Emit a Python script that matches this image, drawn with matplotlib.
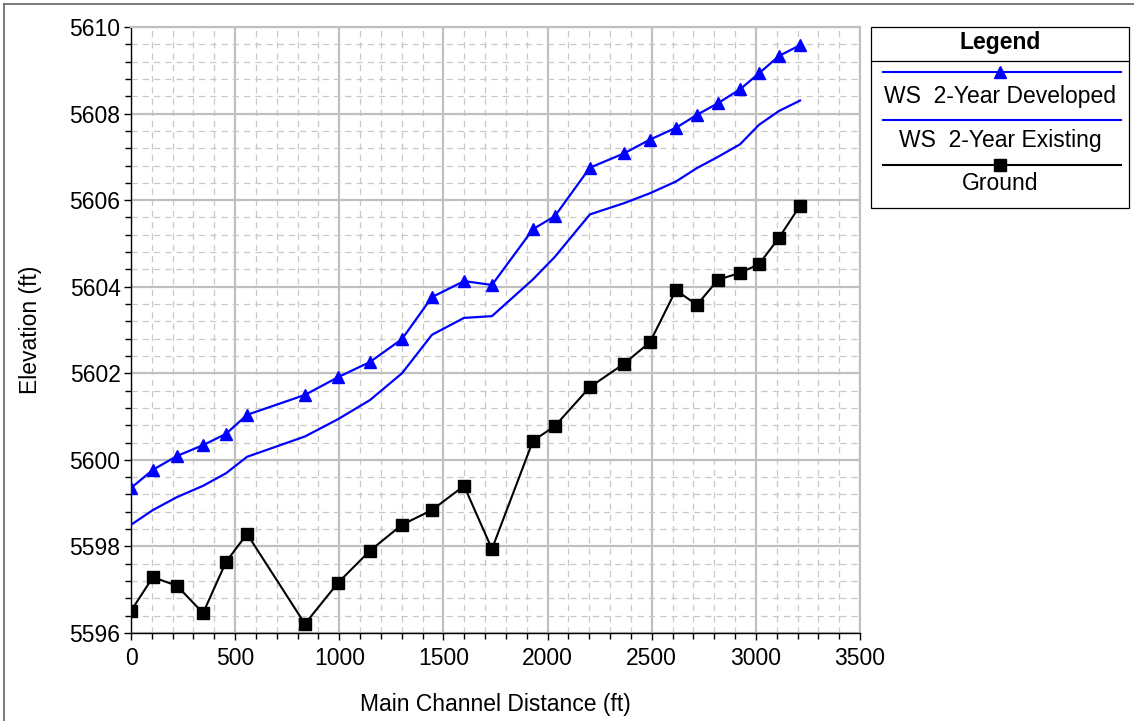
import matplotlib
matplotlib.use("Agg")
import matplotlib.pyplot as plt
from matplotlib.ticker import MultipleLocator
from matplotlib.lines import Line2D
from matplotlib.patches import Rectangle

plt.rcParams['font.family'] = ['Liberation Sans', 'DejaVu Sans']

# Data
station = [0, 105, 221, 346, 456, 557, 835, 994, 1147, 1301, 1445, 1599, 1733,
           1930, 2035, 2203, 2367, 2492, 2616, 2717, 2818, 2924, 3015, 3111, 3212]
ws_developed = [5599.35, 5599.77, 5600.09, 5600.34, 5600.60, 5601.04, 5601.50, 5601.91,
                5602.26, 5602.79, 5603.76, 5604.13, 5604.04, 5605.33, 5605.63, 5606.75,
                5607.08, 5607.40, 5607.67, 5607.97, 5608.24, 5608.56, 5608.93, 5609.33, 5609.58]
ws_existing = [5598.50, 5598.84, 5599.14, 5599.40, 5599.69, 5600.07, 5600.54, 5600.94,
               5601.38, 5602.00, 5602.89, 5603.28, 5603.32, 5604.17, 5604.69, 5605.67,
               5605.93, 5606.16, 5606.43, 5606.74, 5607.00, 5607.29, 5607.74, 5608.06, 5608.30]
ground = [5596.51, 5597.29, 5597.09, 5596.46, 5597.64, 5598.29, 5596.21, 5597.16,
          5597.90, 5598.50, 5598.84, 5599.40, 5597.94, 5600.44, 5600.78, 5601.68,
          5602.22, 5602.72, 5603.92, 5603.58, 5604.16, 5604.32, 5604.52, 5605.13, 5605.87]

series_names = ["WS  2-Year Developed", "WS  2-Year Existing", "Ground"]
legend_title = "Legend"
x_label = "Main Channel Distance (ft)"
y_label = "Elevation (ft)"

FS = 16.5
W, H = 1134, 721
fig = plt.figure(figsize=(W / 100, H / 100), dpi=100)
fig.patch.set_facecolor('white')

# axes placement in pixels
L, R, T, B = 131, 860, 27, 633
ax = fig.add_axes([L / W, 1 - B / H, (R - L) / W, (B - T) / H])

ax.set_xlim(0, 3500)
ax.set_ylim(5596, 5610)
ax.xaxis.set_major_locator(MultipleLocator(500))
ax.xaxis.set_minor_locator(MultipleLocator(100))
ax.yaxis.set_major_locator(MultipleLocator(2))
ax.yaxis.set_minor_locator(MultipleLocator(0.4))

ax.grid(which='minor', color='#c8c8c8', linestyle=(0, (5, 4)), linewidth=0.9)
ax.grid(which='major', color='#c0c0c0', linestyle='-', linewidth=1.6)
ax.set_axisbelow(True)

ax.plot(station, ws_developed, color='#0000ff', lw=1.6, marker='^', ms=8.5,
        markeredgecolor='#0000ff', markerfacecolor='#0000ff', zorder=3)
ax.plot(station, ws_existing, color='#0000ff', lw=1.6, zorder=3)
ax.plot(station, ground, color='black', lw=1.5, marker='s', ms=8, zorder=3)

for s in ['top', 'right']:
    ax.spines[s].set_color('#c0c0c0')
    ax.spines[s].set_linewidth(1.6)
for s in ['left', 'bottom']:
    ax.spines[s].set_color('black')
    ax.spines[s].set_linewidth(1.0)

ax.tick_params(which='major', direction='out', length=5, width=1, labelsize=FS)
ax.tick_params(axis='x', which='major', pad=5)
ax.tick_params(axis='y', which='major', pad=2.5)
ax.tick_params(which='minor', direction='out', length=4.5, width=1)
ax.tick_params(axis='x', which='both', top=False)
ax.tick_params(axis='y', which='both', right=False)
ax.set_xlabel(x_label, fontsize=FS)
ax.set_ylabel(y_label, fontsize=FS)
ax.xaxis.set_label_coords(0.5, (B - 693) / (B - T))
ax.yaxis.set_label_coords((42 - L) / (R - L), 0.5)

# overlay axes in pixel coordinates for legend box and page border
ov = fig.add_axes([0, 0, 1, 1])
ov.set_xlim(0, W)
ov.set_ylim(H, 0)
ov.axis('off')
ov.patch.set_alpha(0)

# page border (top and left)
ov.add_line(Line2D([4, W], [4, 4], color='#6e6e6e', lw=1.3))
ov.add_line(Line2D([4, 4], [4, H], color='#6e6e6e', lw=1.3))

# legend box
lx0, lx1, ly0, ly1 = 871, 1129, 27, 208
ov.add_patch(Rectangle((lx0, ly0), lx1 - lx0, ly1 - ly0, fill=False, ec='black', lw=0.9))
ov.add_line(Line2D([lx0, lx1], [61, 61], color='black', lw=0.9))
cx = (lx0 + lx1) / 2
ov.text(cx, 43, legend_title, ha='center', va='center', fontsize=FS, fontweight='bold')
styles = [dict(color='#0000ff', marker='^', ms=8.5),
          dict(color='#0000ff', marker=None, ms=0),
          dict(color='black', marker='s', ms=8)]
line_y = [72, 120, 165]
text_y = [96, 140, 184]
for name, st, yl, yt in zip(series_names, styles, line_y, text_y):
    ov.add_line(Line2D([883, 1121], [yl, yl], color=st['color'], lw=1.5))
    if st['marker']:
        ov.add_line(Line2D([cx], [yl], color=st['color'], marker=st['marker'],
                           ms=st['ms'], lw=0))
    ov.text(cx, yt, name, ha='center', va='center', fontsize=FS)

fig.savefig('out.png', dpi=100)
